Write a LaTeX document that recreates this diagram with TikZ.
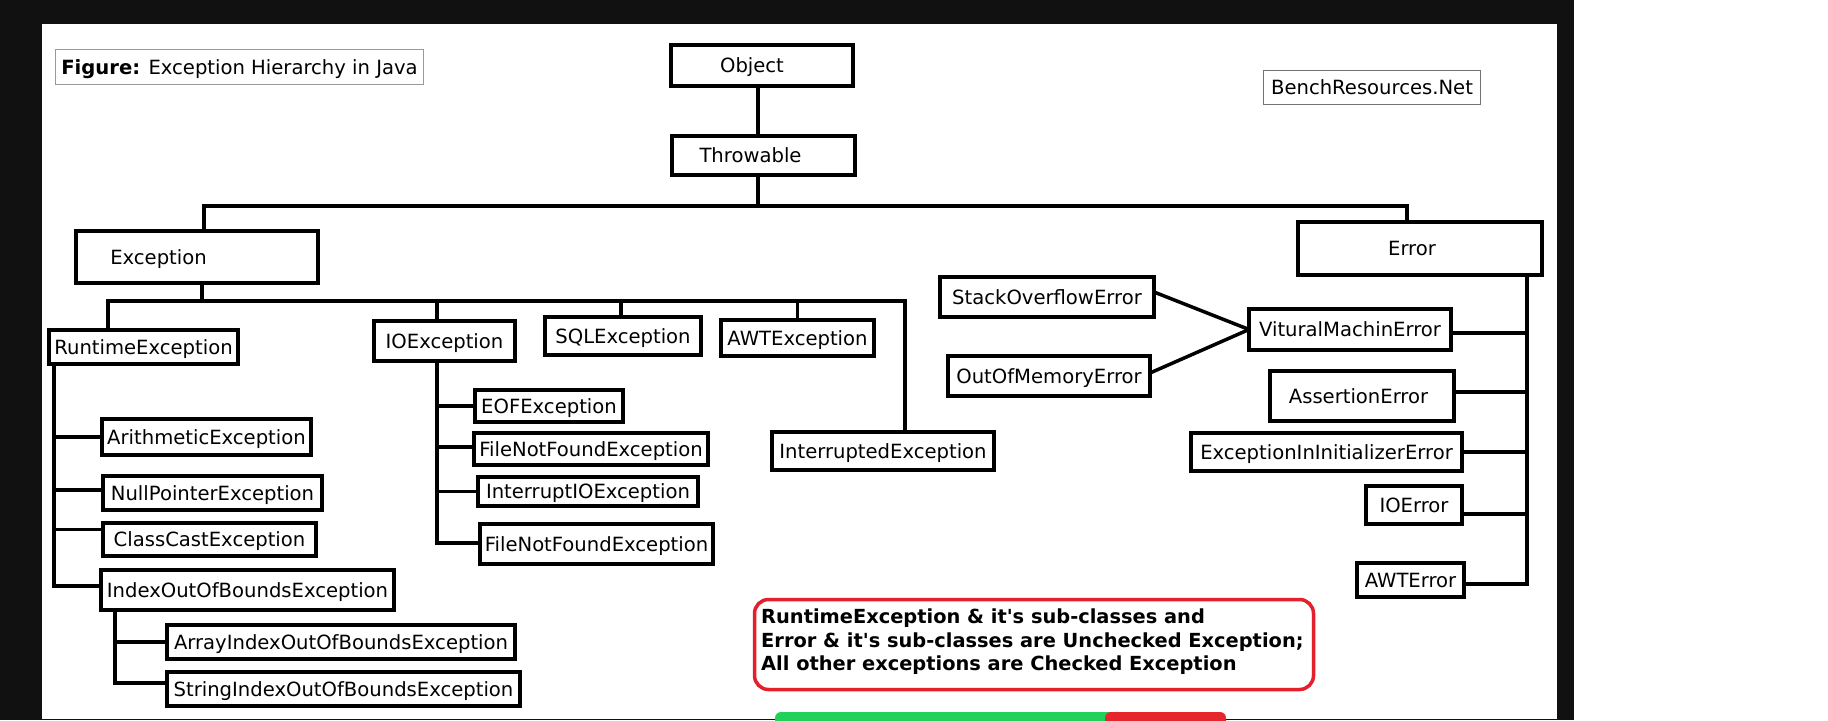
\documentclass[tikz,border=0pt]{standalone}
\usepackage{fontspec}
\newfontfamily\dv{DejaVu Sans}
\definecolor{framec}{HTML}{111111}
\definecolor{notered}{HTML}{E3202B}
\definecolor{gbar}{HTML}{22D15A}
\definecolor{rbar}{HTML}{E5262C}
\tikzset{
  clsbox/.style={draw=black, line width=4pt, fill=white, inner sep=0pt, outer sep=0pt,
    text height=14.3pt, text depth=0pt, font=\dv\fontsize{19.6}{23.5}\selectfont},
  conn/.style={draw=black, line width=3.5pt},
  tagbox/.style={draw=#1, line width=1.2pt, inner sep=0pt, outer sep=0pt,
    text height=14.3pt, text depth=0pt, font=\dv\fontsize{19.6}{23.5}\selectfont},
}
\begin{document}
\begin{tikzpicture}[x=1pt,y=-1pt]
\useasboundingbox (0,0) rectangle (1828,720);
\fill[white] (0,0) rectangle (1828,720);
% screenshot frame
\fill[framec] (0,0) rectangle (1574,24);
\fill[framec] (0,0) rectangle (42,720);
\fill[framec] (1557,0) rectangle (1574,720);
\draw[framec, line width=1.5pt] (42,719.25) -- (1557,719.25);
\begin{scope}
\clip (0,0) rectangle (1828,720);
\fill[gbar, rounded corners=6pt] (775,712) rectangle (1115,740);
\fill[rbar, rounded corners=6pt] (1105,712) rectangle (1226,740);
\end{scope}

% tags
\node[tagbox=gray!80, minimum width=368pt, minimum height=35pt] (fig) at (239.5,67) {\textbf{Figure:} Exception Hierarchy in Java};
\node[tagbox=gray!90!black, minimum width=217pt, minimum height=34pt] (bench) at (1372,87.5) {BenchResources.Net};

% class boxes
\node[clsbox, minimum width=182pt, minimum height=41pt] (object) at (762,65.5) {Object\hspace*{20pt}\null};
\node[clsbox, minimum width=183pt, minimum height=39pt] (throwable) at (763.5,155.5) {Throwable\hspace*{26pt}\null};
\node[clsbox, minimum width=242pt, minimum height=52pt] (exception) at (197,257) {Exception\hspace*{77pt}\null};
\node[clsbox, minimum width=244pt, minimum height=53pt] (error) at (1420,248.5) {Error\hspace*{16pt}\null};

\node[clsbox, minimum width=189pt, minimum height=34pt] (runtime) at (143.5,347) {RuntimeException};
\node[clsbox, minimum width=141pt, minimum height=40pt] (ioexc) at (444.5,341) {IOException};
\node[clsbox, minimum width=156pt, minimum height=38pt] (sqlexc) at (623,336) {SQLException};
\node[clsbox, minimum width=153pt, minimum height=36pt] (awtexc) at (797.5,338) {AWTException};

\node[clsbox, minimum width=209pt, minimum height=36pt] (arith) at (206.5,437) {ArithmeticException};
\node[clsbox, minimum width=219pt, minimum height=34pt] (nullp) at (212.5,493) {NullPointerException};
\node[clsbox, minimum width=213pt, minimum height=33pt] (classcast) at (209.5,539.5) {ClassCastException};
\node[clsbox, minimum width=293pt, minimum height=40pt] (indexoob) at (247.5,590) {IndexOutOfBoundsException};
\node[clsbox, minimum width=348pt, minimum height=34pt] (arrayidx) at (341,642) {ArrayIndexOutOfBoundsException};
\node[clsbox, minimum width=353pt, minimum height=34pt] (stringidx) at (343.5,689) {StringIndexOutOfBoundsException};

\node[clsbox, minimum width=148pt, minimum height=32pt] (eof) at (549,406) {EOFException};
\node[clsbox, minimum width=234pt, minimum height=32pt] (fnfa) at (591,449) {FileNotFoundException};
\node[clsbox, minimum width=220pt, minimum height=29pt] (intio) at (588,491.5) {InterruptIOException};
\node[clsbox, minimum width=233pt, minimum height=40pt] (fnfb) at (596.5,544) {FileNotFoundException};

\node[clsbox, minimum width=222pt, minimum height=38pt] (interrupted) at (883,451) {InterruptedException};

\node[clsbox, minimum width=214pt, minimum height=40pt] (stack) at (1047,297) {StackOverflowError};
\node[clsbox, minimum width=202pt, minimum height=40pt] (oom) at (1049,376) {OutOfMemoryError};
\node[clsbox, minimum width=202pt, minimum height=41pt] (vm) at (1350,329.5) {VituralMachinError};
\node[clsbox, minimum width=184pt, minimum height=50pt] (assertion) at (1362,396) {AssertionError\hspace*{7pt}\null};
\node[clsbox, minimum width=271pt, minimum height=38pt] (eiie) at (1326.5,452) {ExceptionInInitializerError};
\node[clsbox, minimum width=96pt, minimum height=38pt] (ioerror) at (1414,505) {IOError};
\node[clsbox, minimum width=107pt, minimum height=34pt] (awterror) at (1410.5,580) {AWTError};

% note
\node[draw=notered, line width=3.5pt, rounded corners=14pt, minimum width=559pt, minimum height=90pt, inner sep=0pt] (note) at (1034,644.5) {};
\node[anchor=north west, align=left, inner sep=0pt, font=\dv\bfseries\fontsize{19.4}{23.5}\selectfont] (notetext) at (761,609)
  {RuntimeException \& it's sub-classes and\\Error \& it's sub-classes are Unchecked Exception;\\All other exceptions are Checked Exception};

% connectors: top
\draw[conn] ([xshift=-4pt]object.south) -- ([xshift=-5.5pt]throwable.north);
\draw[conn] ([xshift=-5.5pt]throwable.south) -- ++(0,31) coordinate (bus1);
\draw[conn] ([xshift=7pt]exception.north) |- (bus1) -| ([xshift=-13pt]error.north);

% exception subclasses
\draw[conn] ([xshift=5pt]exception.south) -- ++(0,18) coordinate (bus2);
\draw[conn] ([xshift=-35.5pt]runtime.north) |- (bus2) -| ([xshift=22pt]interrupted.north);
\draw[conn] ([xshift=-7.5pt]ioexc.north) |- (bus2);
\draw[conn] ([xshift=-2pt]sqlexc.north) |- (bus2);
\draw[conn] (awtexc.north) |- (bus2);

% runtime subclasses
\coordinate (rtrunk) at ([xshift=5pt]runtime.south west);
\draw[conn] (rtrunk) |- ([yshift=4pt]indexoob.west);
\coordinate (pa) at (arith.west);
\coordinate (pn) at ([yshift=3pt]nullp.west);
\coordinate (pc) at ([yshift=10pt]classcast.west);
\draw[conn] (pa) -- (pa -| rtrunk);
\draw[conn] (pn) -- (pn -| rtrunk);
\draw[conn] (pc) -- (pc -| rtrunk);

% index subclasses
\coordinate (itrunk) at ([xshift=14pt]indexoob.south west);
\draw[conn] (itrunk) |- ([yshift=6pt]stringidx.west);
\coordinate (pai) at (arrayidx.west);
\draw[conn] (pai) -- (pai -| itrunk);

% io subclasses
\coordinate (iotrunk) at ([xshift=-7.5pt]ioexc.south);
\draw[conn] (iotrunk) |- ([yshift=1pt]fnfb.west);
\coordinate (pe) at (eof.west);
\coordinate (pf) at ([yshift=2pt]fnfa.west);
\coordinate (pi) at (intio.west);
\draw[conn] (pe) -- (pe -| iotrunk);
\draw[conn] (pf) -- (pf -| iotrunk);
\draw[conn] (pi) -- (pi -| iotrunk);

% error subclasses
\coordinate (etrunk) at ([xshift=-15pt]error.south east);
\draw[conn] (etrunk) |- ([yshift=-4pt]awterror.east);
\coordinate (qv) at ([yshift=-3.5pt]vm.east);
\coordinate (qa) at ([yshift=4pt]assertion.east);
\coordinate (qe) at (eiie.east);
\coordinate (qi) at ([yshift=-9pt]ioerror.east);
\draw[conn] (qv) -- (qv -| etrunk);
\draw[conn] (qa) -- (qa -| etrunk);
\draw[conn] (qe) -- (qe -| etrunk);
\draw[conn] (qi) -- (qi -| etrunk);

% virtual machine error subclasses
\draw[conn] ([yshift=5pt]stack.east) -- (vm.west);
\draw[conn] ([yshift=3pt]oom.east) -- (vm.west);
\end{tikzpicture}
\end{document}
